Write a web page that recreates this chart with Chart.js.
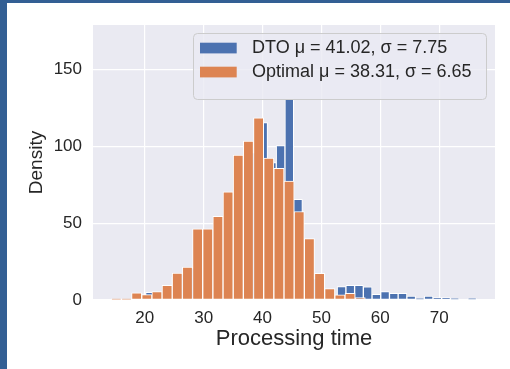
<!DOCTYPE html>
<html>
<head>
<meta charset="utf-8">
<script src="https://cdn.jsdelivr.net/npm/chart.js@4.4.0/dist/chart.umd.min.js"></script>
<style>
  html, body { margin: 0; padding: 0; background: #fff; }
  #wrap { position: relative; width: 510px; height: 369px; overflow: hidden; }
  .edge { position: absolute; background: #335f94; }
</style>
</head>
<body>
<div id="wrap">
  <canvas id="myChart" width="510" height="369"></canvas>
  <div class="edge" style="left:0;top:0;width:7px;height:369px"></div>
  <div class="edge" style="left:0;top:0;width:510px;height:3px"></div>
</div>
<script>
// histogram bins
var dtoStart = 20.15, dtoWidth = 1.479;
var dtoCounts = [5.0, 5, 8, 15, 17, 21, 40, 44, 50, 62, 68, 88, 96, 115.5, 89.4, 100.5, 131, 65.5, 32, 14, 6, 3,
                 8.7, 9.5, 9.5, 8.5, 3.7, 5.5, 4.4, 4.3, 2.6, 1.0, 2.6, 1.5, 1.5, 1.0, 0, 1.0];
var optStart = 14.31, optWidth = 1.726;
var optCounts = [0.8, 0.8, 4.6, 3.5, 5.5, 9.5, 17.6, 21.5, 46.4, 46.4, 54.5, 70.4, 94.4, 103.5, 118.5,
                 92.4, 85.7, 77.4, 57.6, 40.0, 17.4, 7.4, 3.4, 4.4, 1.6];
var seriesLabels = ['DTO \u03bc = 41.02, \u03c3 = 7.75', 'Optimal \u03bc = 38.31, \u03c3 = 6.65'];
var xTicks = [20, 30, 40, 50, 60, 70];
var yTicks = [0, 50, 100, 150];

function toBars(start, width, counts) {
  return counts.map(function(c, i) { return {x: start + width * (i + 0.5), y: c}; });
}

Chart.defaults.font.family = '"Liberation Sans", Arial, sans-serif';
Chart.defaults.color = '#262626';

var plotBg = {
  id: 'plotBg',
  beforeDraw: function(chart) {
    var ctx = chart.ctx, a = chart.chartArea;
    ctx.save();
    ctx.fillStyle = '#eaeaf2';
    ctx.fillRect(a.left, a.top, a.right - a.left, a.bottom - a.top);
    ctx.restore();
  }
};

var legendBox = {
  id: 'legendBox',
  afterDraw: function(chart) {
    var ctx = chart.ctx, a = chart.chartArea;
    var w = 293, h = 66;
    var left = a.right - 9 - w, top = a.top + 8;
    ctx.save();
    ctx.beginPath();
    ctx.roundRect(left + 0.5, top + 0.5, w, h, 4);
    ctx.fillStyle = 'rgba(234,234,242,0.8)';
    ctx.fill();
    ctx.strokeStyle = '#cccccc';
    ctx.lineWidth = 1;
    ctx.stroke();
    ctx.font = '18px "Liberation Sans", Arial, sans-serif';
    ctx.textBaseline = 'middle';
    chart.data.datasets.forEach(function(ds, i) {
      var cy = top + 15 + i * 24;
      ctx.fillStyle = ds.backgroundColor;
      ctx.fillRect(left + 7, cy - 5.3, 36.7, 10.7);
      ctx.fillStyle = '#262626';
      ctx.fillText(ds.label, left + 59, cy);
    });
    ctx.restore();
  }
};

var ctx = document.getElementById('myChart');

var myChart = new Chart(ctx, {
  type: 'bar',
  data: {
    datasets: [
      {
        label: seriesLabels[0],
        data: toBars(dtoStart, dtoWidth, dtoCounts),
        xAxisID: 'x',
        backgroundColor: '#4c72b0',
        order: 2
      },
      {
        label: seriesLabels[1],
        data: toBars(optStart, optWidth, optCounts),
        xAxisID: 'x2',
        backgroundColor: '#dd8452',
        order: 1
      }
    ]
  },
  options: {
    responsive: false,
    animation: false,
    layout: { padding: { left: 20, top: 25, right: 15, bottom: 10 } },
    datasets: {
      bar: {
        grouped: false,
        barPercentage: 1,
        categoryPercentage: 1,
        borderColor: '#ffffff',
        borderWidth: 1,
        borderSkipped: false
      }
    },
    plugins: {
      legend: { display: false },
      tooltip: { enabled: false }
    },
    scales: {
      x: {
        type: 'linear',
        min: 11.21,
        max: 79.49,
        offset: false,
        border: { display: false },
        grid: { offset: false, color: '#ffffff', lineWidth: 1.2, drawTicks: false },
        ticks: { font: { size: 17 }, padding: 8, includeBounds: false },
        afterBuildTicks: function(s) { s.ticks = xTicks.map(function(v) { return {value: v}; }); },
        afterFit: function(s) { s.height = 59; },
        title: { display: true, text: 'Processing time', font: { size: 22 }, padding: { top: 0, bottom: 7 } }
      },
      x2: {
        type: 'linear',
        min: 11.21,
        max: 79.49,
        offset: false,
        display: false
      },
      y: {
        min: 0,
        max: 179,
        border: { display: false },
        grid: { color: '#ffffff', lineWidth: 1.2, drawTicks: false },
        ticks: { font: { size: 17 }, padding: 11, includeBounds: false },
        afterBuildTicks: function(s) { s.ticks = yTicks.map(function(v) { return {value: v}; }); },
        afterFit: function(s) { s.width = 73; },
        title: { display: true, text: 'Density', font: { size: 19 }, padding: { top: 5, bottom: 0 } }
      }
    }
  },
  plugins: [plotBg, legendBox]
});
</script>
</body>
</html>
